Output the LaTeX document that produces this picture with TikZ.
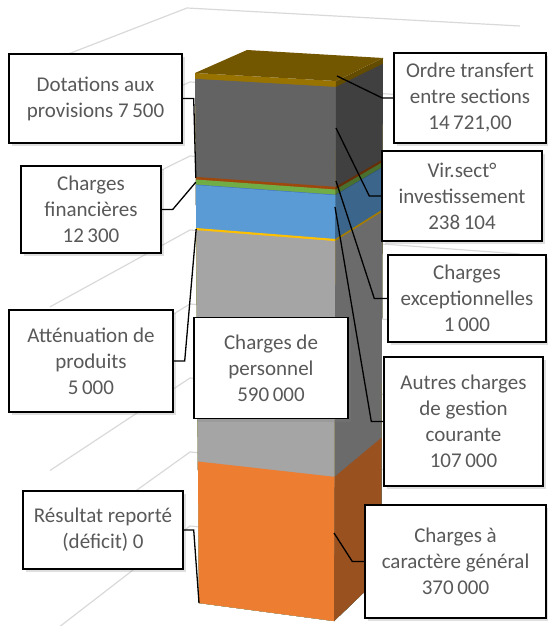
\documentclass[tikz,border=0pt]{standalone}
\usepackage{fontspec}
\setmainfont{Carlito}
\usepackage{tikz}
\usetikzlibrary{calc}
\usetikzlibrary{shadows}
\definecolor{txtgray}{HTML}{595959}
\definecolor{gridgray}{HTML}{D9D9D9}
\definecolor{cOrdre}{HTML}{997300}
\definecolor{cVir}{HTML}{636363}
\definecolor{cDot}{HTML}{9E480E}
\definecolor{cFin}{HTML}{70AD47}
\definecolor{cExc}{HTML}{4472C4}
\definecolor{cAutres}{HTML}{5B9BD5}
\definecolor{cAtt}{HTML}{FFC000}
\definecolor{cPers}{HTML}{A5A5A5}
\definecolor{cCar}{HTML}{ED7D31}
\tikzset{
    lbl/.style={draw,line width=1.4pt,fill=white,text=txtgray,align=center,inner sep=0pt,
        font=\fontsize{21}{26}\selectfont,
        drop shadow={shadow xshift=2.5pt,shadow yshift=-3pt,opacity=0.25}},
    conn/.style={line width=1.3pt},
    gridln/.style={gridgray,line width=1.2pt}
}

\begin{document}
\begin{tikzpicture}[x=1pt,y=-1pt]
                    \useasboundingbox (0, 0) rectangle (547, 626);
                    \draw[gridln] (63, 56) -- (187, 8) -- (520, 26);
                    \foreach \k in {1,...,7} {
                        \pgfmathsetmacro\yc{8+74*\k}
                        \pgfmathsetmacro\yl{\yc+(0.39+0.057*\k)*137}
                        \pgfmathsetmacro\yr{\yc+18+2*\k}
                        \draw[gridln] (50, \yl) -- (190, \yc) -- (520, \yr);
                    }
                    \coordinate (FLt) at (195, 73);
                    \coordinate (FLb) at (199, 603);
                    \coordinate (FRt) at (336, 81);
                    \coordinate (FRb) at (334, 621);
                    \coordinate (SRt) at (383, 58);
                    \coordinate (SRb) at (381, 576);
                    \coordinate (BLt) at (247, 50);
                    \foreach \ta/\col in {0/cOrdre,0.011/cVir,0.196/cDot,0.201/cFin,0.2105/cExc,0.2115/cAutres,0.2925/cAtt,0.2965/cPers,0.733/cCar} {
                        \fill[\col] ($(FLt)!\ta!(FLb)$) -- ($(FRt)!\ta!(FRb)$) -- (FRb) -- (FLb) -- cycle;
                        \fill[\col!65!black] ($(FRt)!\ta!(FRb)$) -- ($(SRt)!\ta!(SRb)$) -- (SRb) -- (FRb) -- cycle;
                    }
                    \fill[cOrdre!75!black] (FLt) -- (BLt) -- (SRt) -- (FRt) -- cycle;
                    \coordinate (pDot) at ($(FLt)!0.198!(FLb)$);
                    \coordinate (pFin) at ($(FLt)!0.206!(FLb)$);
                    \coordinate (pAtt) at ($(FLt)!0.294!(FLb)$);
                    \coordinate (pRes) at (FLb);
                    \coordinate (pOrdre) at (337, 76);
                    \coordinate (pVir) at (336, 128);
                    \coordinate (pExc) at (336, 181);
                    \coordinate (pAutres) at (335, 207);
                    \coordinate (pCar) at (334, 533);
                    \draw (95.5, 98.5) node[lbl,minimum width=173pt,minimum height=89pt,name=dot] {Dotations aux\\provisions 7\,500};
                    \draw (470, 98) node[lbl,minimum width=152pt,minimum height=90pt,name=ordre] {Ordre transfert\\entre sections\\14\,721,00};
                    \draw (462, 196) node[lbl,minimum width=160pt,minimum height=90pt,name=vir] {Vir.sect°\\investissement\\238\,104};
                    \draw (91, 209.5) node[lbl,minimum width=140pt,minimum height=87pt,name=fin] {Charges\\financières\\12\,300};
                    \draw (91, 361) node[lbl,minimum width=164pt,minimum height=102pt,name=att] {Atténuation de\\produits\\5\,000};
                    \draw (271, 368) node[lbl,minimum width=154pt,minimum height=101pt,name=pers] {Charges de\\personnel\\590\,000};
                    \draw (467, 298.5) node[lbl,minimum width=158pt,minimum height=87pt,name=exc] {Charges\\exceptionnelles\\1\,000};
                    \draw (463.5, 421.5) node[lbl,minimum width=159pt,minimum height=129pt,name=autres] {Autres charges\\de gestion\\courante\\107\,000};
                    \draw (103, 530) node[lbl,minimum width=160pt,minimum height=78pt,name=res] {Résultat reporté\\(déficit) 0};
                    \draw (455.5, 561.5) node[lbl,minimum width=181pt,minimum height=113pt,name=car] {Charges à\\caractère général\\370\,000};
                    \draw[conn] (dot.east) -- ++(11, 0) -- (pDot);
                    \draw[conn] (fin.east) -- ++(11, 0) -- (pFin);
                    \draw[conn] (att.east) -- ++(11, 0) -- (pAtt);
                    \draw[conn] (res.east) -- ++(10, 0) -- (pRes);
                    \draw[conn] (ordre.west) -- ++(-11, 0) -- (pOrdre);
                    \draw[conn] (vir.west) -- ++(-12, 0) -- (pVir);
                    \draw[conn] (exc.west) -- ++(-13, 0) -- (pExc);
                    \draw[conn] (autres.west) -- ++(-12, 0) -- (pAutres);
                    \draw[conn] (car.west) -- ++(-12, 0) -- (pCar);
                \end{tikzpicture}
\end{document}
